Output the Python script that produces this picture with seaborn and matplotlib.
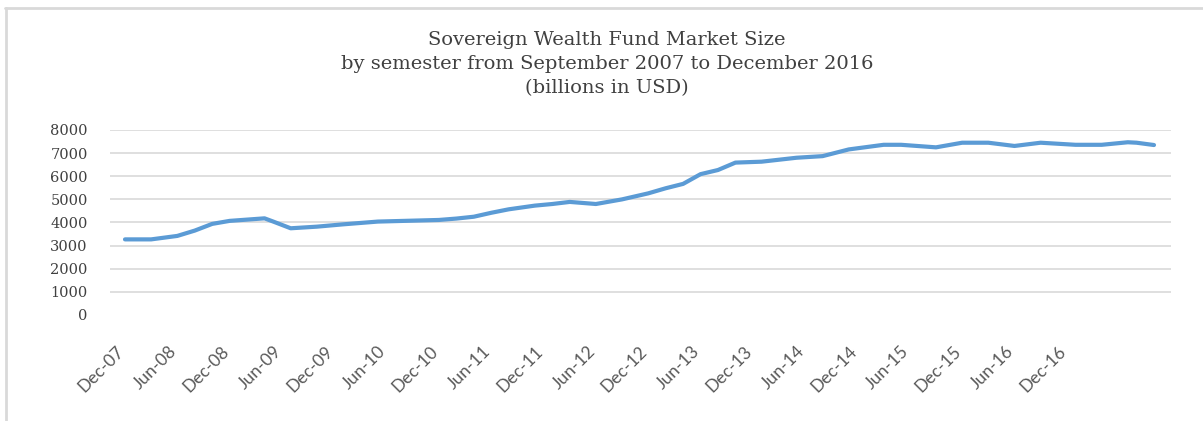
import matplotlib
matplotlib.use("Agg")
import matplotlib.pyplot as plt
from matplotlib.lines import Line2D
from matplotlib.transforms import ScaledTranslation
import seaborn as sns
import pandas as pd

# Months after Dec-2007 and fund size (billions USD)
months = [0, 3, 6, 8, 10, 12, 16, 17, 19, 22, 25, 29, 33, 36, 38, 40, 42, 44, 47, 49,
          51, 54, 57, 60, 62, 64, 66, 68, 70, 73, 77, 80, 83, 87, 89, 93, 96, 99,
          102, 105, 109, 112, 115, 116, 118]
values = [3270, 3270, 3420, 3650, 3940, 4070, 4180, 4040, 3750, 3820, 3920, 4040, 4080,
          4110, 4170, 4250, 4420, 4570, 4730, 4800, 4890, 4800, 5000, 5260, 5480, 5670,
          6090, 6270, 6590, 6630, 6800, 6870, 7160, 7360, 7360, 7250, 7450, 7450, 7310,
          7450, 7360, 7360, 7470, 7450, 7350]
tick_months = list(range(0, 109, 6))
tick_labels = ["Dec-07", "Jun-08", "Dec-08", "Jun-09", "Dec-09", "Jun-10", "Dec-10",
               "Jun-11", "Dec-11", "Jun-12", "Dec-12", "Jun-13", "Dec-13", "Jun-14",
               "Dec-14", "Jun-15", "Dec-15", "Jun-16", "Dec-16"]
y_ticks = [0, 1000, 2000, 3000, 4000, 5000, 6000, 7000, 8000]
title_lines = ["Sovereign Wealth Fund Market Size",
               "by semester from September 2007 to December 2016",
               "(billions in USD)"]

sns.set_theme(style="white")
plt.rcParams["font.family"] = ["DejaVu Serif"]

df = pd.DataFrame({"month": months, "value": values})

W, H = 1203, 421
fig = plt.figure(figsize=(W / 100, H / 100), dpi=100)
fig.patch.set_facecolor("white")
ax = fig.add_axes([110 / W, (H - 315) / H, (1171 - 110) / W, (315 - 130) / H])

sns.lineplot(data=df, x="month", y="value", ax=ax, color="#5B9BD5", linewidth=3.0,
             solid_capstyle="round", solid_joinstyle="round")

ax.set_xlim(-1.72, 119.95)
ax.set_ylim(0, 8000)
ax.set_yticks(y_ticks)
ax.set_yticklabels([str(v) for v in y_ticks], fontsize=10.5, color="#404040",
                   family=["DejaVu Serif"])
for v in y_ticks[1:]:
    ax.axhline(v, color="#d9d9d9", linewidth=1.2, zorder=0)

ax.set_xticks(tick_months)
ax.set_xticklabels(tick_labels, rotation=45, ha="right", rotation_mode="anchor",
                   fontsize=12.5, color="#595959", family=["Lato", "DejaVu Sans"])
ax.tick_params(axis="x", length=0, pad=20)
ax.tick_params(axis="y", length=0, pad=16)
shift = ScaledTranslation(-0.09, 0.0, fig.dpi_scale_trans)
for lab in ax.get_xticklabels():
    lab.set_transform(lab.get_transform() + shift)
ax.set_xlabel("")
ax.set_ylabel("")
for s in ax.spines.values():
    s.set_visible(False)

ys = [40, 64, 88]
for line, yy in zip(title_lines, ys):
    fig.text(607 / W, 1 - yy / H, line, ha="center", va="center", fontsize=14,
             color="#404040", family=["DejaVu Serif"])

# outer frame (top and left edges)
fig.add_artist(Line2D([5 / W, 1.0], [1 - 8 / H, 1 - 8 / H], transform=fig.transFigure,
                      color="#d9d9d9", linewidth=2))
fig.add_artist(Line2D([6 / W, 6 / W], [0, 1 - 8 / H], transform=fig.transFigure,
                      color="#d9d9d9", linewidth=2))

fig.savefig("out.png", dpi=100, facecolor="white")
